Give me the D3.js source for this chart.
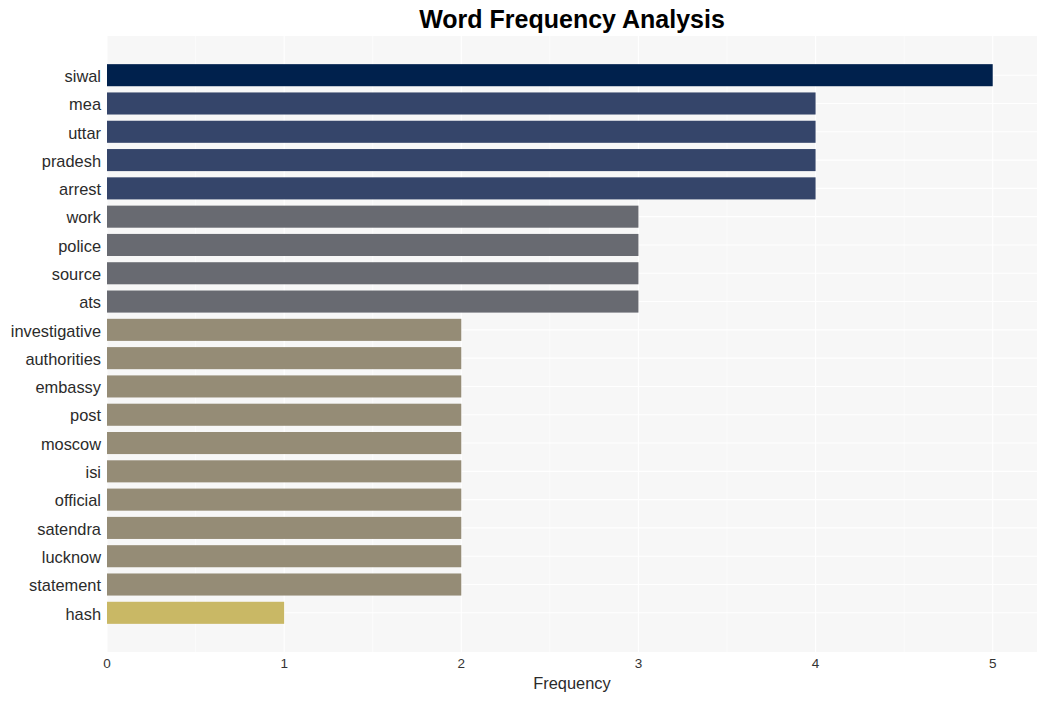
<!DOCTYPE html>
<html><head><meta charset="utf-8">
<script src="https://cdn.jsdelivr.net/npm/d3@7"></script>
<style>body{margin:0;background:#fff;}svg{display:block;font-family:"Liberation Sans",Arial,sans-serif;}</style>
</head><body>
<script>
const words = ["siwal","mea","uttar","pradesh","arrest","work","police","source","ats","investigative","authorities","embassy","post","moscow","isi","official","satendra","lucknow","statement","hash"];
const counts = [5,4,4,4,4,3,3,3,3,2,2,2,2,2,2,2,2,2,2,1];
const xTicks = [0,1,2,3,4,5];
const colorByCount = {5:"#00214d",4:"#35456a",3:"#686a71",2:"#958c76",1:"#c9b865"};

const W=1046,H=701;
const pLeft=107,pRight=1037,pTop=36,pBottom=652;
const svg=d3.select("body").append("svg").attr("width",W).attr("height",H);

const x=d3.scaleLinear().domain([0,5.25]).range([pLeft,pRight]);
const y=d3.scaleBand().domain(words).range([pTop,pBottom]).paddingInner(0.22).paddingOuter(0.995);

svg.append("rect").attr("x",pLeft).attr("y",pTop).attr("width",pRight-pLeft).attr("height",pBottom-pTop).attr("fill","#f7f7f7");

const minor=d3.range(0.5,5.25,1);
svg.selectAll(".minor").data(minor).enter().append("line")
 .attr("x1",d=>x(d)).attr("x2",d=>x(d)).attr("y1",pTop).attr("y2",pBottom)
 .attr("stroke","#ffffff").attr("stroke-width",0.6);
svg.selectAll(".hg").data(words).enter().append("line")
 .attr("x1",pLeft).attr("x2",pRight).attr("y1",d=>y(d)+y.bandwidth()/2).attr("y2",d=>y(d)+y.bandwidth()/2)
 .attr("stroke","#ffffff").attr("stroke-width",1.1);
svg.selectAll(".major").data(xTicks).enter().append("line")
 .attr("x1",d=>x(d)).attr("x2",d=>x(d)).attr("y1",pTop).attr("y2",pBottom)
 .attr("stroke","#ffffff").attr("stroke-width",1.1);

svg.selectAll(".bar").data(words).enter().append("rect")
 .attr("x",x(0)).attr("y",d=>y(d)).attr("height",y.bandwidth())
 .attr("width",(d,i)=>x(counts[i])-x(0))
 .attr("fill",(d,i)=>colorByCount[counts[i]]);

svg.selectAll(".yl").data(words).enter().append("text")
 .attr("x",pLeft-6).attr("y",d=>y(d)+y.bandwidth()/2+1).attr("dy","0.35em")
 .attr("text-anchor","end").attr("font-size",16.4).attr("fill","#2b2b2b")
 .text(d=>d);

svg.selectAll(".xl").data(xTicks).enter().append("text")
 .attr("x",d=>x(d)).attr("y",pBottom+15.5).attr("text-anchor","middle")
 .attr("font-size",13.5).attr("fill","#333").text(d=>d);

svg.append("text").attr("x",(pLeft+pRight)/2).attr("y",689).attr("text-anchor","middle")
 .attr("font-size",16.4).attr("fill","#2b2b2b").text("Frequency");

svg.append("text").attr("x",(pLeft+pRight)/2).attr("y",28).attr("text-anchor","middle")
 .attr("font-size",25).attr("font-weight","bold").attr("fill","#000").text("Word Frequency Analysis");
</script>
</body></html>
